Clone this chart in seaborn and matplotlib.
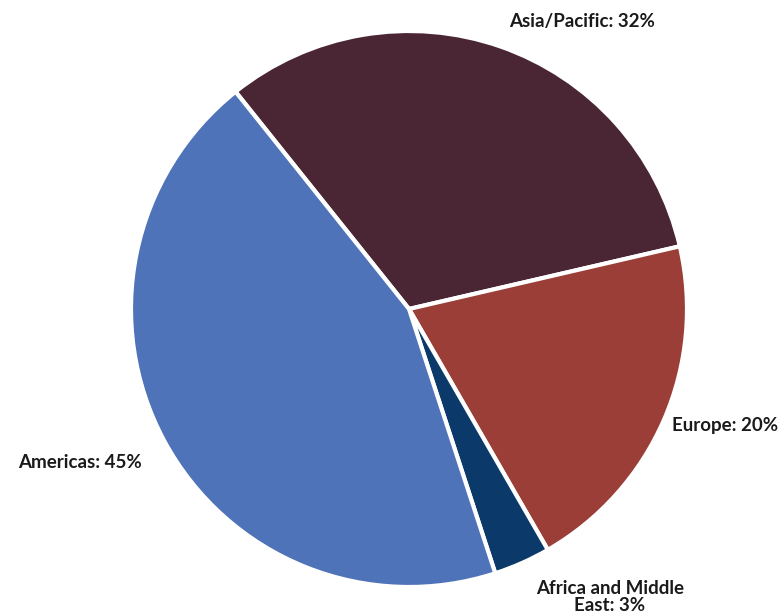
import matplotlib
matplotlib.use("Agg")
import matplotlib.pyplot as plt
import seaborn as sns

regions = ["Asia/Pacific", "Europe", "Africa and Middle\nEast", "Americas"]
shares = [32.1, 20.3, 3.3, 44.3]
label_pcts = [32, 20, 3, 45]
colors = ["#4A2634", "#9A3E37", "#0B3A6A", "#4F73B8"]

sns.set_theme(style="white")
plt.rcParams["font.family"] = ["Lato", "DejaVu Sans"]

fig = plt.figure(figsize=(7.8, 6.16), dpi=100)
ax = fig.add_axes([0, 0, 1, 1])
ax.set_xlim(0, 780)
ax.set_ylim(0, 616)
ax.set_aspect("equal")
ax.axis("off")

ax.pie(shares, colors=colors, startangle=128.6, counterclock=False,
       radius=278, center=(409, 307),
       wedgeprops=dict(edgecolor="white", linewidth=3))
ax.set_xlim(0, 780)
ax.set_ylim(0, 616)

label_pos = [(582, 594), (725, 191), (610, 19), (80, 153)]
for name, pct, (x, y) in zip(regions, label_pcts, label_pos):
    ax.text(x, y, f"{name}: {pct}%", ha="center", va="center", fontsize=13.5,
            fontweight="bold", color="#1a1a1a", linespacing=0.95)

fig.savefig("out.png", dpi=100)
